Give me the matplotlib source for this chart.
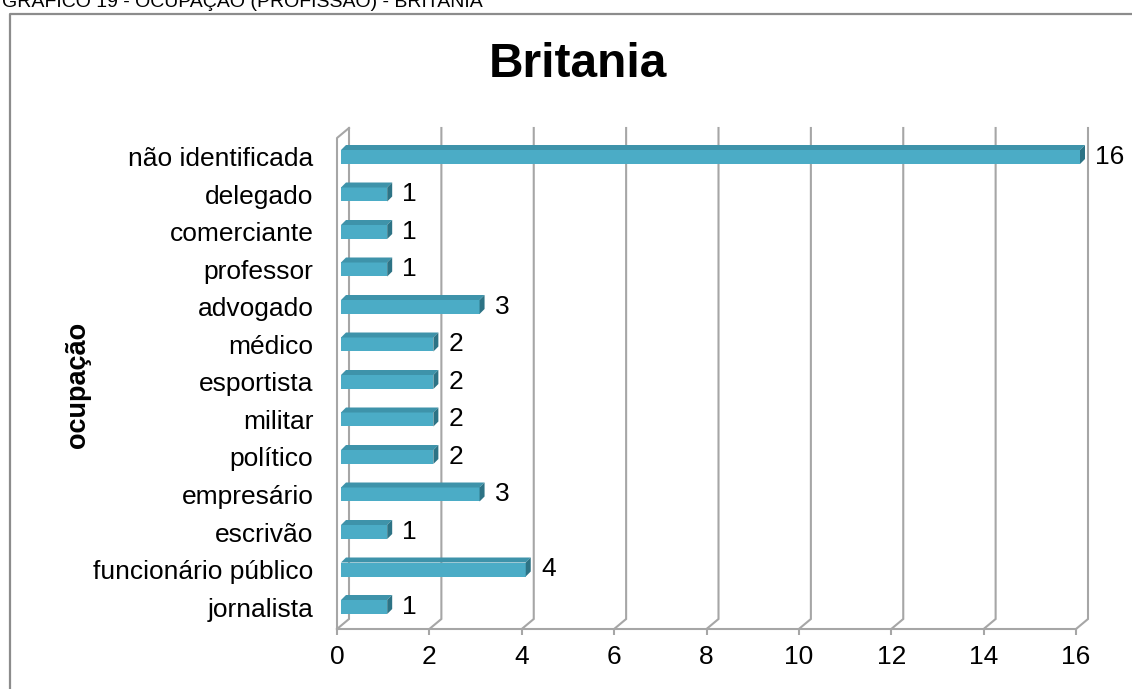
import matplotlib
matplotlib.use("Agg")
import matplotlib.pyplot as plt
from matplotlib.patches import Polygon
from matplotlib.lines import Line2D

plt.rcParams["font.family"] = ["Liberation Sans", "DejaVu Sans"]

# ─── DADOS ───────────────────────────────────────────────────────────────────
ocupacoes = [
    "jornalista", "funcionário público", "escrivão", "empresário", "político",
    "militar", "esportista", "médico", "advogado", "professor",
    "comerciante", "delegado", "não identificada",
]
quantidades = [1, 4, 1, 3, 2, 2, 2, 2, 3, 1, 1, 1, 16]
x_ticks = list(range(0, 17, 2))

TITULO = "Britania"
CABECALHO = "GRÁFICO 19 - OCUPAÇÃO (PROFISSÃO) - BRITANIA"
EIXO_Y = "ocupação"

COR_FRENTE = "#4BACC6"
COR_TOPO = "#3E93AA"
COR_LADO = "#2D7385"
COR_GRADE = "#A6A6A6"

# ─── GEOMETRIA (pixels da figura 1132 x 689) ────────────────────────────────
W, H = 1132, 689
PX0, PX16 = 337, 1076          # x=0 e x=16 no plano frontal
PY_BASE, PY_TOPO = 629, 128     # chão frontal e topo da parede de fundo
PY_CAT0, PASSO = 607, 37.5      # centro da primeira categoria e espaçamento

ux = (PX16 - PX0) / 16.0        # pixels por unidade em x
y_min = (PY_CAT0 - PY_BASE) / PASSO
y_max = (PY_CAT0 - PY_TOPO) / PASSO

# deslocamento de profundidade das paredes e das barras (unidades de dados)
prof_x, prof_y = 12 / ux, 10 / PASSO
barra_x0 = 4 / ux
barra_h = 14 / PASSO
barra_dx, barra_dy = 5 / ux, 5 / PASSO

fig = plt.figure(figsize=(W / 100, H / 100), dpi=100)
ax = fig.add_axes([PX0 / W, 1 - PY_BASE / H, (PX16 - PX0) / W,
                   (PY_BASE - PY_TOPO) / H])
ax.set_xlim(0, 16)
ax.set_ylim(y_min, y_max)
ax.patch.set_visible(False)

# grade em perspectiva: diagonal no chão e vertical na parede de fundo
for v in x_ticks:
    ax.plot([v, v + prof_x, v + prof_x],
            [y_min, y_min + prof_y, y_max],
            color=COR_GRADE, lw=1.5, zorder=1, clip_on=False,
            solid_joinstyle="miter")
# aresta frontal da parede lateral esquerda
ax.plot([0, 0, prof_x], [y_min, y_max - prof_y, y_max],
        color=COR_GRADE, lw=1.5, zorder=1, clip_on=False)

# barras: face frontal + topo + lateral
pos = list(range(len(ocupacoes)))
barras = ax.barh(pos, quantidades, left=barra_x0, height=barra_h,
                 color=COR_FRENTE, edgecolor="none", zorder=3)
for b in barras:
    b.set_clip_on(False)
for i, v in zip(pos, quantidades):
    x1 = barra_x0 + v
    yt = i + barra_h / 2
    yb = i - barra_h / 2
    ax.add_patch(Polygon([(barra_x0, yt), (x1, yt),
                          (x1 + barra_dx, yt + barra_dy),
                          (barra_x0 + barra_dx, yt + barra_dy)],
                         closed=True, facecolor=COR_TOPO, edgecolor="none",
                         zorder=3, clip_on=False))
    ax.add_patch(Polygon([(x1, yb), (x1, yt), (x1 + barra_dx, yt + barra_dy),
                          (x1 + barra_dx, yb + barra_dy)],
                         closed=True, facecolor=COR_LADO, edgecolor="none",
                         zorder=3, clip_on=False))
    ax.annotate(str(v), xy=(x1, i), xytext=(11, 0),
                textcoords="offset points", ha="left", va="center",
                fontsize=19, color="black", zorder=4,
                annotation_clip=False)

# eixos
for lado in ("top", "right", "left"):
    ax.spines[lado].set_visible(False)
ax.spines["bottom"].set_color(COR_GRADE)
ax.spines["bottom"].set_linewidth(1.5)
ax.set_xticks(x_ticks)
ax.tick_params(axis="x", direction="out", length=4.5, width=1.5,
               color=COR_GRADE, labelsize=19, pad=7)
ax.set_yticks(pos)
ax.set_yticklabels(ocupacoes)
ax.tick_params(axis="y", length=0, labelsize=19, pad=17)

# títulos
fig.text(578 / W, 1 - 77 / H, TITULO, ha="center", va="baseline",
         fontsize=34.5, fontweight="bold")
fig.text(78 / W, 1 - 385 / H, EIXO_Y, rotation=90, ha="center", va="center",
         fontsize=19.5, fontweight="bold")
fig.text(483 / W, 1 - 7 / H, CABECALHO, ha="right", va="baseline",
         fontsize=14)

# moldura do gráfico (cortada à direita e embaixo)
fig.add_artist(Line2D([10 / W, 10 / W, 1.0], [0.0, 1 - 14 / H, 1 - 14 / H],
                      transform=fig.transFigure, color="#8C8C8C", lw=1.6))

fig.savefig("out.png", dpi=100)
